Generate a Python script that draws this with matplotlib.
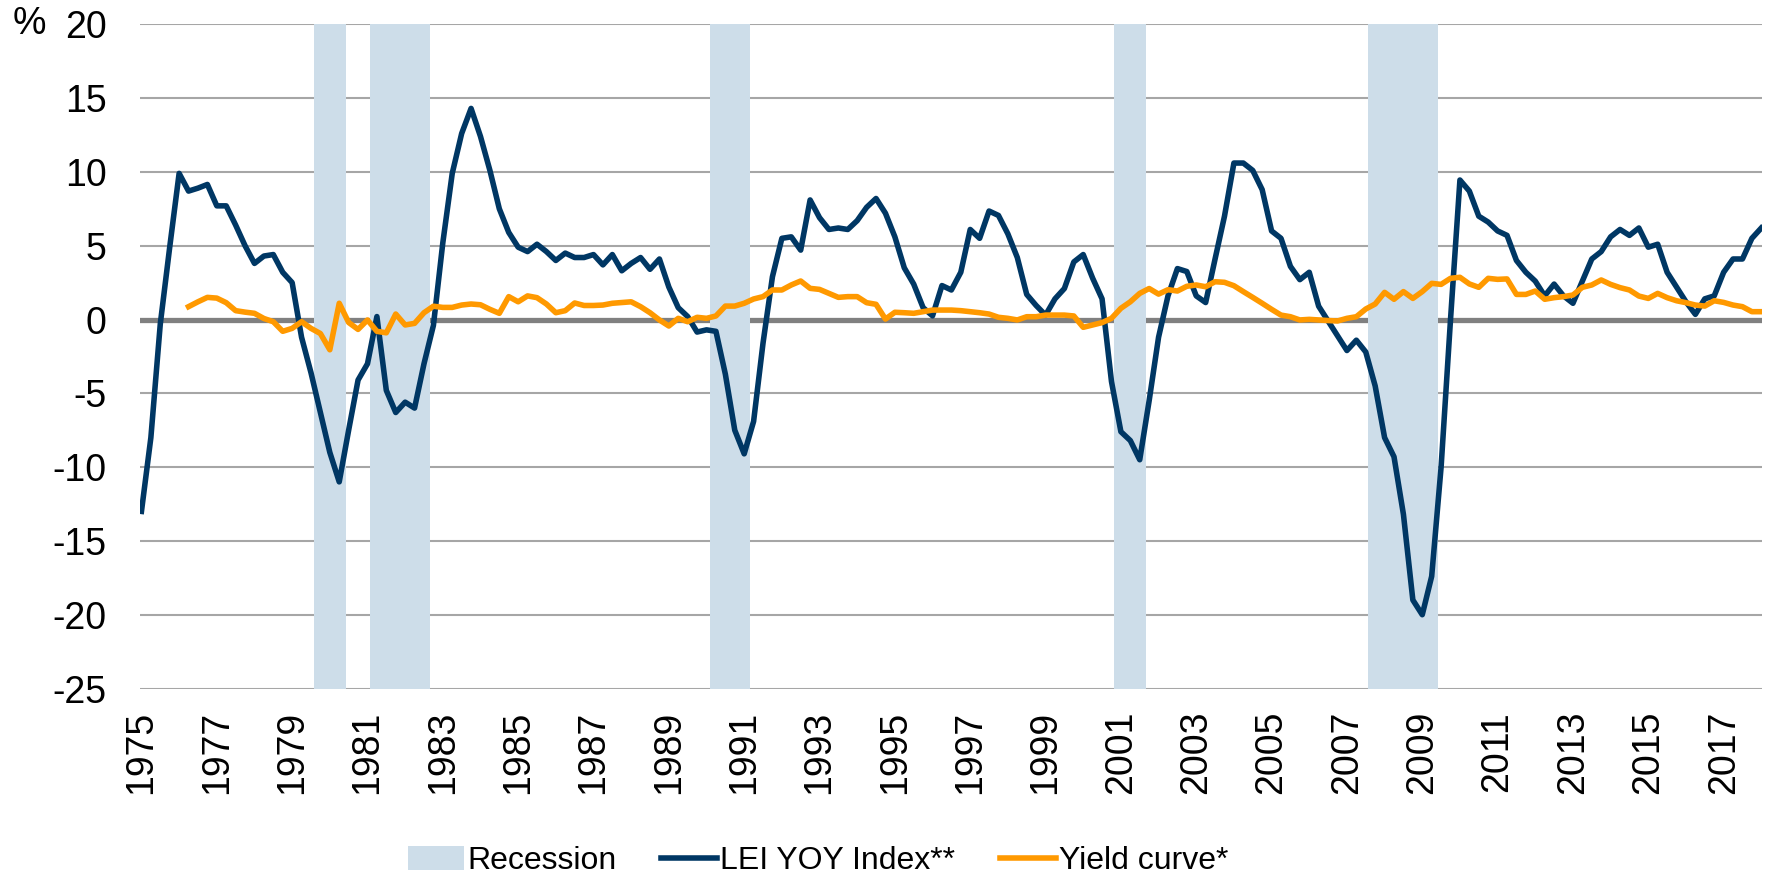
import numpy as np
import matplotlib
matplotlib.use("Agg")
import matplotlib.pyplot as plt
import matplotlib.patches as mpatches
from matplotlib.lines import Line2D

plt.rcParams['font.family'] = ['Liberation Sans', 'DejaVu Sans']
plt.rcParams['axes.unicode_minus'] = False

# quarterly LEI year-over-year change, %, from 1975 Q1
lei = [
    -13.0, -8.0, -0.3, 4.9,      # 1975
    9.9, 8.7, 8.9, 9.15,         # 1976
    7.7, 7.7, 6.4, 5.0,          # 1977
    3.8, 4.3, 4.4, 3.2,          # 1978
    2.5, -1.2, -3.6, -6.3,       # 1979
    -9.0, -11.0, -7.5, -4.1,     # 1980
    -3.0, 0.2, -4.8, -6.3,       # 1981
    -5.6, -6.0, -3.0, -0.4,      # 1982
    5.2, 9.9, 12.6, 14.3,        # 1983
    12.4, 10.1, 7.5, 5.9,        # 1984
    4.9, 4.6, 5.1, 4.6,          # 1985
    4.0, 4.5, 4.2, 4.2,          # 1986
    4.4, 3.7, 4.4, 3.3,          # 1987
    3.8, 4.2, 3.4, 4.1,          # 1988
    2.2, 0.8, 0.2, -0.85,        # 1989
    -0.7, -0.8, -3.7, -7.5,      # 1990
    -9.1, -6.9, -1.6, 2.9,       # 1991
    5.5, 5.6, 4.7, 8.1,          # 1992
    6.9, 6.1, 6.2, 6.1,          # 1993
    6.7, 7.6, 8.2, 7.2,          # 1994
    5.6, 3.5, 2.4, 0.8,          # 1995
    0.25, 2.3, 2.0, 3.2,         # 1996
    6.1, 5.5, 7.35, 7.05,        # 1997
    5.8, 4.2, 1.7, 0.95,         # 1998
    0.3, 1.4, 2.1, 3.9,          # 1999
    4.4, 2.8, 1.4, -4.2,         # 2000
    -7.6, -8.2, -9.5, -5.5,      # 2001
    -1.2, 1.6, 3.45, 3.25,       # 2002
    1.6, 1.15, 4.1, 7.0,         # 2003
    10.6, 10.6, 10.1, 8.8,       # 2004
    6.0, 5.5, 3.6, 2.7,          # 2005
    3.2, 0.9, -0.1, -1.1,        # 2006
    -2.1, -1.4, -2.2, -4.5,      # 2007
    -8.0, -9.3, -13.2, -19.0,    # 2008
    -20.0, -17.4, -10.0, 0.0,    # 2009
    9.45, 8.7, 7.0, 6.6,         # 2010
    6.0, 5.7, 4.0, 3.2,          # 2011
    2.6, 1.6, 2.4, 1.6,          # 2012
    1.1, 2.6, 4.1, 4.6,          # 2013
    5.6, 6.1, 5.7, 6.2,          # 2014
    4.9, 5.1, 3.2, 2.2,          # 2015
    1.2, 0.35, 1.4, 1.6,         # 2016
    3.2, 4.1, 4.1, 5.5,          # 2017
    6.2,                         # 2018
]

# quarterly yield curve spread, %, from 1976 Q2
yield_curve = [
    0.87, 1.2, 1.5,              # 1976
    1.45, 1.14, 0.6, 0.5,        # 1977
    0.42, 0.07, -0.15, -0.8,     # 1978
    -0.6, -0.15, -0.6, -0.95,    # 1979
    -2.05, 1.1, -0.2, -0.67,     # 1980
    -0.03, -0.8, -0.9, 0.37,     # 1981
    -0.37, -0.26, 0.46, 0.9,     # 1982
    0.82, 0.82, 0.98, 1.05,      # 1983
    1.0, 0.69, 0.42, 1.55,       # 1984
    1.2, 1.6, 1.48, 1.05,        # 1985
    0.46, 0.6, 1.12, 0.95,       # 1986
    0.95, 0.98, 1.1, 1.15,       # 1987
    1.2, 0.87, 0.46, -0.03,      # 1988
    -0.44, 0.08, -0.15, 0.15,    # 1989
    0.08, 0.24, 0.91, 0.91,      # 1990
    1.1, 1.39, 1.55, 2.0,        # 1991
    2.0, 2.34, 2.61, 2.11,       # 1992
    2.04, 1.77, 1.5, 1.55,       # 1993
    1.55, 1.14, 1.03, 0.03,      # 1994
    0.49, 0.46, 0.42, 0.53,      # 1995
    0.64, 0.64, 0.64, 0.6,       # 1996
    0.53, 0.46, 0.37, 0.15,      # 1997
    0.08, -0.03, 0.19, 0.19,     # 1998
    0.3, 0.3, 0.3, 0.24,         # 1999
    -0.53, -0.37, -0.21, 0.08,   # 2000
    0.76, 1.2, 1.77, 2.1,        # 2001
    1.72, 2.02, 1.93, 2.25,      # 2002
    2.34, 2.22, 2.56, 2.52,      # 2003
    2.29, 1.89, 1.5, 1.1,        # 2004
    0.69, 0.3, 0.19, -0.03,      # 2005
    0.01, -0.03, -0.07, -0.1,    # 2006
    0.08, 0.19, 0.71, 1.05,      # 2007
    1.84, 1.37, 1.89, 1.43,      # 2008
    1.89, 2.45, 2.38, 2.79,      # 2009
    2.86, 2.41, 2.18, 2.79,      # 2010
    2.72, 2.75, 1.7, 1.7,        # 2011
    1.93, 1.37, 1.48, 1.55,      # 2012
    1.66, 2.18, 2.34, 2.68,      # 2013
    2.38, 2.16, 2.0, 1.59,       # 2014
    1.43, 1.77, 1.48, 1.27,      # 2015
    1.14, 0.98, 0.91, 1.27,      # 2016
    1.16, 0.98, 0.87, 0.53,      # 2017
    0.53,                        # 2018
]

rec_start = [1979.58, 1981.07, 1990.08, 2000.83, 2007.57]
rec_end = [1980.42, 1982.66, 1991.15, 2001.66, 2009.41]

year_ticks = list(range(1975, 2018, 2))
y_ticks = list(range(-25, 21, 5))

x_lei = 1975 + 0.25 * np.arange(len(lei))
x_yc = 1976.25 + 0.25 * np.arange(len(yield_curve))

navy = '#003764'
orange = '#FF9900'
rec_col = '#CDDDE9'

fig = plt.figure(figsize=(17.67, 8.77), dpi=100)
ax = fig.add_axes([0.0792, 0.2149, 0.9180, 0.7574])

for s, e in zip(rec_start, rec_end):
    ax.axvspan(s, e, color=rec_col, lw=0, zorder=1)
ax.axhline(0, color='#808080', lw=3.8, zorder=0.8)

ax.plot(x_lei, lei, color=navy, lw=4.0, zorder=3)
ax.plot(x_yc, yield_curve, color=orange, lw=4.0, zorder=3)

ax.set_xlim(1974.96, 2018.02)
ax.set_ylim(-25, 20)
ax.set_yticks(y_ticks)
ax.set_xticks(year_ticks)
ax.set_xticklabels([str(y) for y in year_ticks], rotation=90)
ax.yaxis.grid(True, color='#A6A6A6', lw=1.5)
ax.set_axisbelow(True)
for sp in ax.spines.values():
    sp.set_visible(False)
ax.tick_params(axis='y', length=0, pad=24, labelsize=27)
ax.tick_params(axis='x', length=0, pad=16, labelsize=27)

fig.text(13 / 1767, 1 - 24.3 / 877, '%', fontsize=27, ha='left', va='center')

handles = [
    mpatches.Patch(color=rec_col, lw=0),
    Line2D([], [], color=navy, lw=4.0),
    Line2D([], [], color=orange, lw=4.0),
]
labels = ['Recession', 'LEI YOY Index**', 'Yield curve*']
fig.legend(handles, labels, loc='center', bbox_to_anchor=(0.463, 0.018), ncol=3,
           frameon=False, handlelength=1.75, handleheight=0.8, handletextpad=0.1,
           columnspacing=1.4, fontsize=23)

fig.savefig('out.png', dpi=100)
